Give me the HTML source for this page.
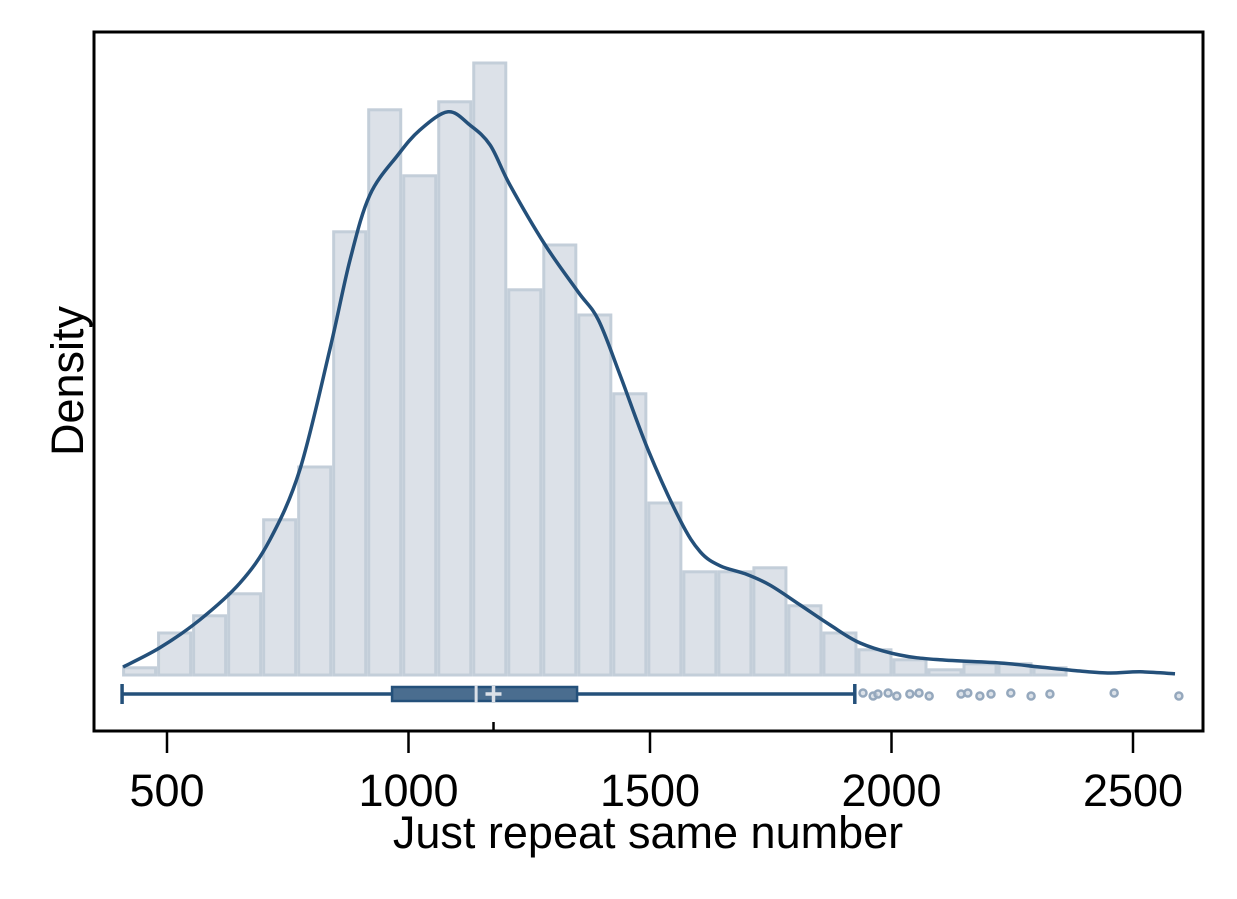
<!DOCTYPE html>
<html><head><meta charset="utf-8"><style>
body{margin:0;background:#fff}
svg{display:block;font-family:"Liberation Sans",Arial,sans-serif}
</style></head><body>
<svg id="chart" width="1237" height="899" viewBox="0 0 1237 899">
<rect x="0" y="0" width="1237" height="899" fill="#fff"/>
<g id="bars"></g>
<path id="kde" fill="none" stroke="#24507a" stroke-width="3.5"/>
<g id="box"></g>
<rect x="94" y="32" width="1109" height="699" fill="none" stroke="#000" stroke-width="3"/>
<g id="xaxis"></g>
<text x="648" y="848" font-size="45" text-anchor="middle">Just repeat same number</text>
<text transform="translate(83,381) rotate(-90)" font-size="45" text-anchor="middle">Density</text>
</svg>
<script>
const binStart = 407;
const binWidth = 72.5;
const binDensity = [0.18,1.05,1.48,2.03,3.88,5.2,11.08,14.13,12.48,14.33,15.3,9.63,10.75,9.0,7.03,4.3,2.58,2.58,2.68,1.73,1.05,0.63,0.38,0.13,0.28,0.28,0.18];
const kdeX = [409,485,568,651,713,775,837,879,920,978,1024,1082,1127,1169,1210,1283,1351,1393,1438,1496,1562,1604,1645,1697,1748,1811,1873,1935,2017,2100,2225,2307,2390,2452,2515,2587];
const kdeY = [0.2,0.68,1.38,2.3,3.38,5.13,8.13,10.38,12.0,13.0,13.63,14.08,13.75,13.25,12.25,10.75,9.58,8.88,7.5,5.63,3.88,3.08,2.73,2.53,2.25,1.75,1.25,0.8,0.5,0.38,0.3,0.2,0.1,0.05,0.08,0.03];
const boxStats = [407,966,1140,1349,1924];
const meanValue = 1176;
const outliers = [1941,1962,1972,1993,2011,2038,2057,2078,2144,2158,2183,2206,2247,2289,2328,2461,2595];
const xTicks = [500,1000,1500,2000,2500];

const NS='http://www.w3.org/2000/svg';
const sx = v => -74.5 + v*0.483;
const baseY = 675;
const sy = d => baseY - d*40;
function mk(tag, attrs, parent){const e=document.createElementNS(NS,tag);for(const k in attrs)e.setAttribute(k,attrs[k]);parent.appendChild(e);return e;}

const bars=document.getElementById('bars');
binDensity.forEach((d,i)=>{
  const x0=sx(binStart+i*binWidth), x1=sx(binStart+(i+1)*binWidth);
  const r=mk('rect',{x:x0+1.5,y:sy(d),width:x1-x0-3,height:baseY-sy(d),fill:'#dce1e8',stroke:'#c3ced9','stroke-width':3},bars);
  
  
});

const pts=kdeX.map((x,i)=>[sx(x),sy(kdeY[i])]);
let d='M'+pts[0][0]+','+pts[0][1];
for(let i=0;i<pts.length-1;i++){
  const p0=pts[Math.max(0,i-1)],p1=pts[i],p2=pts[i+1],p3=pts[Math.min(pts.length-1,i+2)];
  const c1=[p1[0]+(p2[0]-p0[0])/6,p1[1]+(p2[1]-p0[1])/6];
  const c2=[p2[0]-(p3[0]-p1[0])/6,p2[1]-(p3[1]-p1[1])/6];
  d+=` C${c1[0]},${c1[1]} ${c2[0]},${c2[1]} ${p2[0]},${p2[1]}`;
}
document.getElementById('kde').setAttribute('d',d);

const box=document.getElementById('box');
const by=694;
let e;
e=mk('line',{x1:sx(boxStats[0]),x2:sx(boxStats[4]),y1:by,y2:by,stroke:'#24507a','stroke-width':3.5},box);


[boxStats[0],boxStats[4]].forEach(v=>{
  e=mk('line',{x1:sx(v),x2:sx(v),y1:by-10,y2:by+10,stroke:'#24507a','stroke-width':3.5},box);
  
  
});
e=mk('rect',{x:sx(boxStats[1]),y:by-7,width:sx(boxStats[3])-sx(boxStats[1]),height:14,fill:'#4a6d8f',stroke:'#24507a','stroke-width':2.5},box);


e=mk('line',{x1:sx(boxStats[2]),x2:sx(boxStats[2]),y1:by-9,y2:by+9,stroke:'#dce1e8','stroke-width':3},box);


e=mk('path',{d:`M${sx(meanValue)-8},${by} h16 M${sx(meanValue)},${by-8} v16`,stroke:'#dce1e8','stroke-width':3.5,fill:'none'},box);


e=mk('line',{x1:sx(meanValue),x2:sx(meanValue),y1:731,y2:722,stroke:'#000','stroke-width':2.5},box);


outliers.forEach((v,i)=>{
  e=mk('circle',{cx:sx(v),cy:by+(i%3===0?-1:(i%3===1?2:0)),r:3.5,fill:'#c5cfdb','fill-opacity':0.6,stroke:'#95a8bd','stroke-width':2.5},box);
  
  
});

const xa=document.getElementById('xaxis');
xTicks.forEach(t=>{
  e=mk('line',{x1:sx(t),x2:sx(t),y1:731,y2:753,stroke:'#000','stroke-width':2.5},xa);
  
  
  e=mk('text',{x:sx(t),y:806,'font-size':45,'text-anchor':'middle'},xa);
  e.textContent=t;
  
  
});
</script>
</body></html>
